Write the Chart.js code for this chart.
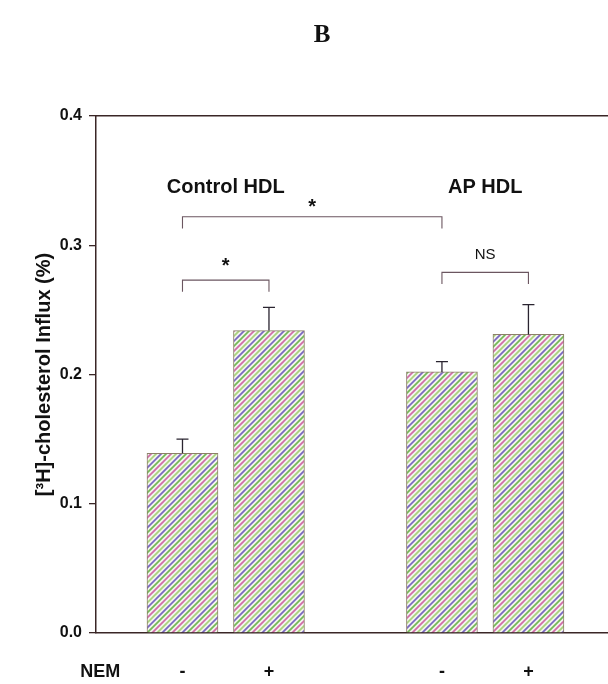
<!DOCTYPE html>
<html>
<head>
<meta charset="utf-8">
<script src="https://cdn.jsdelivr.net/npm/chart.js@4.4.1/dist/chart.umd.min.js"></script>
<style>
  html, body { margin: 0; padding: 0; background: #ffffff; overflow: hidden; }
  canvas { display: block; }
</style>
</head>
<body>
<canvas id="c" width="608" height="684"></canvas>
<script>
// ---- data ----
const positions = [1, 2, 4, 5];
const values = [0.139, 0.234, 0.202, 0.231];
const errors = [0.011, 0.018, 0.008, 0.023];
const tickPositions = [0.05, 1, 2, 4, 5];
const tickLabels = ['NEM', '-', '+', '-', '+'];
const groupLabels = ['Control HDL', 'AP HDL'];
const groupCenters = [1.5, 4.5];
const groupLabelY = 0.345;
const bracketFrom = [1, 1, 4];
const bracketTo = [2, 4, 5];
const bracketY = [0.273, 0.322, 0.279];
const bracketText = ['*', '*', 'NS'];
const bracketDrop = 0.009;
const yTicks = [0, 0.1, 0.2, 0.3, 0.4];

// ---- hatch pattern ----
function makePattern() {
  const n = 20, s = 5;
  const p = document.createElement('canvas');
  p.width = n; p.height = n;
  const c = p.getContext('2d');
  c.fillStyle = '#f3f5ee';
  c.fillRect(0, 0, n, n);
  const cols = ['#74b856', '#d06aa8', '#a9d27c', '#7a66c0'];
  c.lineWidth = 1.7;
  for (let k = -1; k <= 9; k++) {
    const d = k * s;
    c.strokeStyle = cols[((k % 4) + 4) % 4];
    c.beginPath();
    c.moveTo(d + 3, -3);
    c.lineTo(-3, d + 3);
    c.stroke();
  }
  return document.getElementById('c').getContext('2d').createPattern(p, 'repeat');
}

const axisColor = '#3a2626';
const FONT = '"Liberation Sans", Arial, sans-serif';
const labelGaps = [18, 13, 18];

const annotations = {
  id: 'annotations',
  afterDatasetsDraw(chart) {
    const ctx = chart.ctx;
    const xs = chart.scales.x, ys = chart.scales.y;
    ctx.save();
    // error bars (upper only)
    ctx.strokeStyle = '#2a2430';
    ctx.lineWidth = 1.3;
    positions.forEach((p, i) => {
      const px = xs.getPixelForValue(p);
      const y0 = ys.getPixelForValue(values[i]);
      const y1 = ys.getPixelForValue(values[i] + errors[i]);
      ctx.beginPath();
      ctx.moveTo(px, y0); ctx.lineTo(px, y1);
      ctx.moveTo(px - 6, y1); ctx.lineTo(px + 6, y1);
      ctx.stroke();
    });
    // brackets
    ctx.strokeStyle = '#6b5660';
    ctx.lineWidth = 1.1;
    ctx.fillStyle = '#111';
    ctx.textAlign = 'center';
    ctx.textBaseline = 'middle';
    bracketFrom.forEach((a, i) => {
      const xa = xs.getPixelForValue(a), xb = xs.getPixelForValue(bracketTo[i]);
      const yy = ys.getPixelForValue(bracketY[i]);
      const yd = ys.getPixelForValue(bracketY[i] - bracketDrop);
      ctx.beginPath();
      ctx.moveTo(xa, yd); ctx.lineTo(xa, yy); ctx.lineTo(xb, yy); ctx.lineTo(xb, yd);
      ctx.stroke();
      if (bracketText[i] === '*') {
        ctx.font = 'bold 20px ' + FONT;
        ctx.fillText(bracketText[i], (xa + xb) / 2, yy - labelGaps[i] + 4);
      } else {
        ctx.font = '15px ' + FONT;
        ctx.fillText(bracketText[i], (xa + xb) / 2, yy - labelGaps[i]);
      }
    });
    // group labels
    ctx.font = 'bold 20px ' + FONT;
    ctx.fillStyle = '#111';
    groupLabels.forEach((t, i) => {
      ctx.fillText(t, xs.getPixelForValue(groupCenters[i]), ys.getPixelForValue(groupLabelY));
    });
    // panel letter
    ctx.font = 'bold 25px "Liberation Serif", "Times New Roman", serif';
    ctx.fillText('B', 322, 36);
    ctx.restore();
  }
};

const xMax = 5.92;

new Chart(document.getElementById('c'), {
  type: 'bar',
  data: {
    datasets: [{
      data: positions.map((p, i) => ({ x: p, y: values[i] })),
      backgroundColor: makePattern(),
      borderColor: '#8d7f6a',
      borderWidth: 1,
      barThickness: 71
    }]
  },
  options: {
    responsive: false,
    devicePixelRatio: 1,
    animation: false,
    layout: { padding: { top: 116, left: 0, right: 0, bottom: 0 } },
    plugins: { legend: { display: false }, tooltip: { enabled: false }, title: { display: false } },
    scales: {
      x: {
        type: 'linear',
        offset: false,
        min: 0, max: xMax,
        position: 'bottom',
        afterBuildTicks(axis) { axis.ticks = tickPositions.map(v => ({ value: v })); },
        afterFit(axis) { axis.height = 51; },
        ticks: {
          autoSkip: false,
          maxRotation: 0,
          padding: 28,
          color: '#111',
          font: { family: FONT, size: 18, weight: 'bold' },
          callback(v) { const i = tickPositions.indexOf(v); return i >= 0 ? tickLabels[i] : ''; }
        },
        grid: { display: false, drawTicks: false },
        border: { display: true, color: axisColor, width: 1.5 }
      },
      x2: {
        type: 'linear',
        offset: false,
        min: 0, max: xMax,
        position: 'top',
        afterFit(axis) { axis.height = 0; },
        ticks: { display: false },
        grid: { display: false, drawTicks: false },
        border: { display: true, color: axisColor, width: 1.5 }
      },
      y: {
        min: 0, max: 0.4,
        afterBuildTicks(axis) { axis.ticks = yTicks.map(v => ({ value: v })); },
        afterFit(axis) { axis.width = 96; },
        ticks: {
          padding: 7,
          color: '#111',
          font: { family: FONT, size: 16, weight: 'bold' },
          callback(v) { return Number(v).toFixed(1); }
        },
        grid: { drawOnChartArea: false, drawTicks: true, tickLength: 7, color: axisColor, lineWidth: 1.3 },
        border: { display: true, color: axisColor, width: 1.5 },
        title: {
          display: true,
          text: '[³H]-cholesterol Influx (%)',
          color: '#111',
          font: { family: FONT, size: 20, weight: 'bold' },
          padding: { top: 32, bottom: 0 }
        }
      }
    }
  },
  plugins: [annotations]
});
</script>
</body>
</html>
